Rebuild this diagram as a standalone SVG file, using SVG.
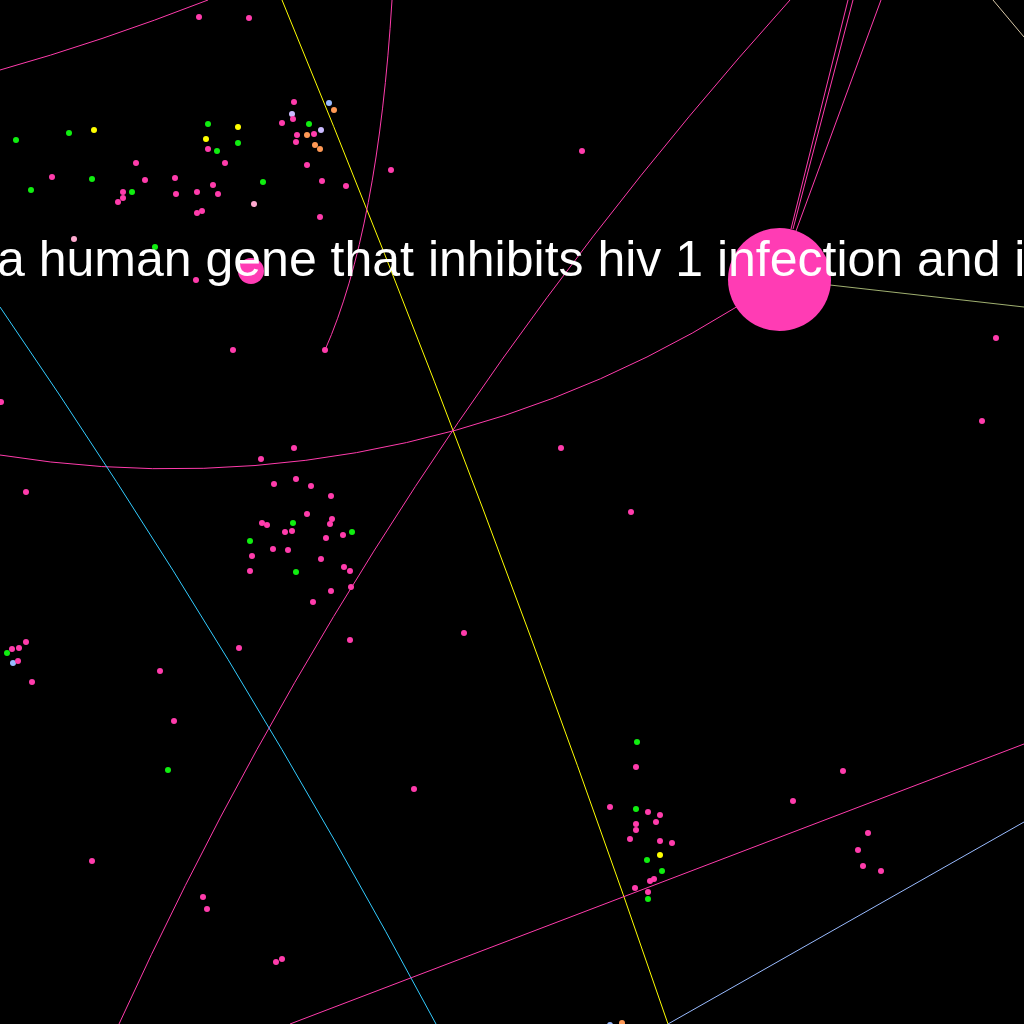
<svg xmlns="http://www.w3.org/2000/svg" width="1024" height="1024" viewBox="0 0 1024 1024">
<style>
.e{fill:none;stroke-width:1}
.pk{stroke:#ff3cac}
.d circle{r:3}
.p{fill:#ff3cac}
.g{fill:#10ee10}
.y{fill:#ffff00}
.o{fill:#ff9955}
.lb{fill:#99bbff}
.lv{fill:#ccbbff}
.lp{fill:#ffaad0}
.lbl{font-family:"Liberation Sans",Arial,sans-serif;font-size:50px;fill:#ffffff}
</style>
<rect width="1024" height="1024" fill="#000"/>
<g id="connectors">
<path class="e pk" d="M0,70 Q100,42 208,0"/>
<path class="e" stroke="#ffff00" d="M282,0 A17537,17537 0 0 1 668,1024"/>
<path class="e pk" d="M392,0 Q378,230 325,350"/>
<path class="e pk" d="M0,455 A1068,1068 0 0 0 779,279"/>
<path class="e pk" d="M790,0 A4032,4032 0 0 0 119,1024"/>
<path class="e" stroke="#33ccff" d="M0,307 A7534,7534 0 0 1 436,1024"/>
<path class="e pk" d="M791,229 L848,0"/>
<path class="e pk" d="M793,229 L853,0"/>
<path class="e pk" d="M796,231 L881,0"/>
<path class="e" stroke="#d8c8a8" d="M993,0 L1024,37"/>
<path class="e" stroke="#a0b070" d="M830,285 L1024,307"/>
<path class="e pk" d="M290,1024 L1024,744"/>
<path class="e" stroke="#99bbff" d="M668,1024 L1024,822"/>
</g>
<g id="nodes" class="d">
<g id="hub1"><circle cx="779.5" cy="279.5" r="51.5" style="r:51.5px" fill="#ff3cb4"/></g>
<g id="hub2"><circle cx="251" cy="271" r="13" style="r:13px" fill="#ff3cb4"/></g>
<g id="cluster-top">
<circle class="p" cx="294" cy="102"/><circle class="lb" cx="329" cy="103"/><circle class="o" cx="334" cy="110"/>
<circle class="lv" cx="292" cy="114"/><circle class="p" cx="293" cy="119"/><circle class="g" cx="309" cy="124"/>
<circle class="p" cx="282" cy="123"/><circle class="g" cx="208" cy="124"/><circle class="y" cx="238" cy="127"/>
<circle class="lv" cx="321" cy="130"/><circle class="p" cx="297" cy="135"/><circle class="o" cx="307" cy="135"/>
<circle class="p" cx="314" cy="134"/><circle class="y" cx="94" cy="130"/><circle class="g" cx="69" cy="133"/>
<circle class="g" cx="16" cy="140"/><circle class="y" cx="206" cy="139"/><circle class="p" cx="296" cy="142"/>
<circle class="o" cx="315" cy="145"/><circle class="o" cx="320" cy="149"/><circle class="g" cx="238" cy="143"/>
<circle class="p" cx="208" cy="149"/><circle class="g" cx="217" cy="151"/><circle class="p" cx="225" cy="163"/>
<circle class="p" cx="307" cy="165"/><circle class="p" cx="136" cy="163"/><circle class="p" cx="52" cy="177"/>
<circle class="g" cx="92" cy="179"/><circle class="p" cx="145" cy="180"/><circle class="p" cx="175" cy="178"/>
<circle class="p" cx="322" cy="181"/><circle class="p" cx="391" cy="170"/><circle class="p" cx="346" cy="186"/>
<circle class="g" cx="263" cy="182"/><circle class="p" cx="213" cy="185"/><circle class="g" cx="31" cy="190"/>
<circle class="p" cx="123" cy="192"/><circle class="g" cx="132" cy="192"/><circle class="p" cx="197" cy="192"/>
<circle class="p" cx="176" cy="194"/><circle class="p" cx="218" cy="194"/><circle class="p" cx="118" cy="202"/>
<circle class="p" cx="123" cy="198"/><circle class="lp" cx="254" cy="204"/><circle class="p" cx="202" cy="211"/>
<circle class="p" cx="197" cy="213"/><circle class="p" cx="320" cy="217"/>
<circle class="p" cx="199" cy="17"/><circle class="p" cx="249" cy="18"/><circle class="p" cx="582" cy="151"/>
<circle class="g" cx="155" cy="247"/><circle class="lp" cx="74" cy="239"/><circle class="p" cx="196" cy="280"/>
<circle class="p" cx="233" cy="350"/><circle class="p" cx="325" cy="350"/><circle class="p" cx="1" cy="402"/>
</g>
<g id="cluster-mid">
<circle class="p" cx="294" cy="448"/><circle class="p" cx="261" cy="459"/><circle class="p" cx="26" cy="492"/>
<circle class="p" cx="296" cy="479"/><circle class="p" cx="274" cy="484"/><circle class="p" cx="311" cy="486"/>
<circle class="p" cx="331" cy="496"/><circle class="p" cx="307" cy="514"/><circle class="p" cx="332" cy="519"/>
<circle class="p" cx="330" cy="524"/><circle class="g" cx="293" cy="523"/><circle class="p" cx="262" cy="523"/>
<circle class="p" cx="267" cy="525"/><circle class="p" cx="285" cy="532"/><circle class="p" cx="292" cy="531"/>
<circle class="g" cx="352" cy="532"/><circle class="p" cx="343" cy="535"/><circle class="p" cx="326" cy="538"/>
<circle class="g" cx="250" cy="541"/><circle class="p" cx="273" cy="549"/><circle class="p" cx="288" cy="550"/>
<circle class="p" cx="252" cy="556"/><circle class="p" cx="321" cy="559"/><circle class="p" cx="344" cy="567"/>
<circle class="p" cx="350" cy="571"/><circle class="p" cx="250" cy="571"/><circle class="g" cx="296" cy="572"/>
<circle class="p" cx="351" cy="587"/><circle class="p" cx="331" cy="591"/><circle class="p" cx="313" cy="602"/>
<circle class="p" cx="350" cy="640"/><circle class="p" cx="239" cy="648"/><circle class="p" cx="464" cy="633"/>
</g>
<g id="cluster-left">
<circle class="p" cx="26" cy="642"/><circle class="p" cx="12" cy="649"/><circle class="p" cx="19" cy="648"/>
<circle class="g" cx="7" cy="653"/><circle class="lb" cx="13" cy="663"/><circle class="p" cx="18" cy="661"/>
<circle class="p" cx="32" cy="682"/>
<circle class="p" cx="160" cy="671"/><circle class="p" cx="174" cy="721"/><circle class="g" cx="168" cy="770"/>
<circle class="p" cx="414" cy="789"/><circle class="p" cx="92" cy="861"/><circle class="p" cx="203" cy="897"/>
<circle class="p" cx="207" cy="909"/><circle class="p" cx="276" cy="962"/><circle class="p" cx="282" cy="959"/>
</g>
<g id="cluster-bottom">
<circle class="g" cx="637" cy="742"/><circle class="p" cx="636" cy="767"/><circle class="p" cx="610" cy="807"/>
<circle class="g" cx="636" cy="809"/><circle class="p" cx="648" cy="812"/><circle class="p" cx="660" cy="815"/>
<circle class="p" cx="656" cy="822"/><circle class="p" cx="636" cy="824"/><circle class="p" cx="636" cy="830"/>
<circle class="p" cx="630" cy="839"/><circle class="p" cx="660" cy="841"/><circle class="p" cx="672" cy="843"/>
<circle class="g" cx="647" cy="860"/><circle class="y" cx="660" cy="855"/><circle class="g" cx="662" cy="871"/>
<circle class="p" cx="650" cy="881"/><circle class="p" cx="654" cy="879"/><circle class="p" cx="635" cy="888"/>
<circle class="p" cx="648" cy="892"/><circle class="g" cx="648" cy="899"/>
<circle class="lb" cx="610" cy="1025"/><circle class="o" cx="622" cy="1023"/>
</g>
<g id="cluster-right">
<circle class="p" cx="843" cy="771"/><circle class="p" cx="793" cy="801"/><circle class="p" cx="868" cy="833"/>
<circle class="p" cx="858" cy="850"/><circle class="p" cx="863" cy="866"/><circle class="p" cx="881" cy="871"/>
<circle class="p" cx="982" cy="421"/><circle class="p" cx="561" cy="448"/><circle class="p" cx="631" cy="512"/>
<circle class="p" cx="996" cy="338"/>
</g>
</g>
<text class="lbl" x="-3" y="276">a human gene that inhibits hiv 1 infection and i</text>
</svg>
